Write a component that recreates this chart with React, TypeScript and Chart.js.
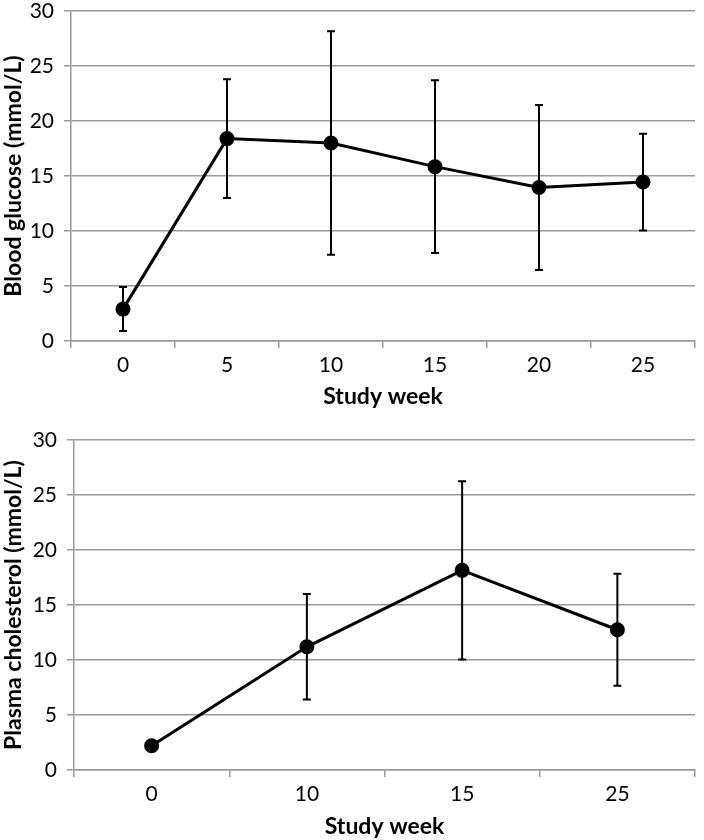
import React, { useEffect, useRef } from "react";
import { Chart, registerables } from "chart.js";

Chart.register(...registerables);

// Top chart: blood glucose
const glucoseWeeks = ["0", "5", "10", "15", "20", "25"];
const glucoseMean = [2.9, 18.4, 18.0, 15.85, 13.95, 14.45];
const glucoseErr = [2.0, 5.4, 10.15, 7.85, 7.5, 4.4];

// Bottom chart: plasma cholesterol
const cholWeeks = ["0", "10", "15", "25"];
const cholMean = [2.2, 11.2, 18.15, 12.75];
const cholErr = [0, 4.8, 8.1, 5.1];

const yTicks = [0, 5, 10, 15, 20, 25, 30];

const FONT = "Lato, 'Open Sans', sans-serif";
const GRID = "#9a9a9a";

const errorBarPlugin = {
  id: "errorBars",
  afterDatasetsDraw(chart: any) {
    const errs: number[] = chart.options.plugins.errorBars?.errors || [];
    const ctx = chart.ctx;
    const meta = chart.getDatasetMeta(0);
    const yScale = chart.scales.y;
    const data = chart.data.datasets[0].data as number[];
    ctx.save();
    ctx.strokeStyle = "#000";
    ctx.lineWidth = 2;
    meta.data.forEach((pt: any, i: number) => {
      const e = errs[i];
      if (!e) return;
      const x = pt.x;
      const yTop = yScale.getPixelForValue(data[i] + e);
      const yBot = yScale.getPixelForValue(data[i] - e);
      ctx.beginPath();
      ctx.moveTo(x, yTop);
      ctx.lineTo(x, yBot);
      ctx.moveTo(x - 4, yTop);
      ctx.lineTo(x + 4, yTop);
      ctx.moveTo(x - 4, yBot);
      ctx.lineTo(x + 4, yBot);
      ctx.stroke();
    });
    ctx.restore();
  },
};

function makeConfig(
  labels: string[],
  values: number[],
  errors: number[],
  yTitle: string,
  dims: { yWidth: number; xHeight: number; top: number; right: number }
): any {
  return {
    type: "line",
    data: {
      labels,
      datasets: [
        {
          data: values,
          borderColor: "#000",
          backgroundColor: "#000",
          borderWidth: 3,
          pointRadius: 6,
          pointHoverRadius: 6,
          pointBackgroundColor: "#000",
          pointBorderColor: "#000",
          tension: 0,
        },
      ],
    },
    options: {
      animation: false,
      responsive: false,
      maintainAspectRatio: false,
      events: [],
      layout: { padding: { top: dims.top, right: dims.right, left: 0, bottom: 0 } },
      plugins: {
        legend: { display: false },
        tooltip: { enabled: false },
        errorBars: { errors },
      },
      scales: {
        x: {
          type: "category",
          offset: true,
          grid: {
            offset: true,
            drawOnChartArea: false,
            drawTicks: true,
            tickLength: 7,
            color: GRID,
            lineWidth: 1.5,
          },
          border: { color: GRID, width: 1.5 },
          ticks: {
            color: "#000",
            font: { family: FONT, size: 21 },
            padding: 5,
            maxRotation: 0,
          },
          title: {
            display: true,
            text: "Study week",
            color: "#000",
            font: { family: FONT, size: 23, weight: "bold" },
            padding: { top: 0, bottom: 0 },
          },
          afterFit(scale: any) {
            scale.height = dims.xHeight;
            scale.paddingLeft = 0;
            scale.paddingRight = 0;
          },
        },
        y: {
          min: 0,
          max: 30,
          afterBuildTicks(scale: any) {
            scale.ticks = yTicks.map((v) => ({ value: v }));
          },
          grid: {
            color: GRID,
            lineWidth: 1.5,
            drawTicks: true,
            tickLength: 7,
          },
          border: { color: GRID, width: 1.5 },
          ticks: {
            color: "#000",
            font: { family: FONT, size: 21 },
            padding: 10,
          },
          title: {
            display: true,
            text: yTitle,
            color: "#000",
            font: { family: FONT, size: 23, weight: "bold" },
            padding: { top: 0, bottom: 0 },
          },
          afterFit(scale: any) {
            scale.width = dims.yWidth;
            scale.paddingTop = 0;
            scale.paddingBottom = 0;
          },
        },
      },
    },
    plugins: [errorBarPlugin],
  };
}

function ChartCanvas({ config, width, height }: { config: any; width: number; height: number }) {
  const ref = useRef<HTMLCanvasElement | null>(null);
  useEffect(() => {
    if (!ref.current) return;
    const chart = new Chart(ref.current, config);
    return () => chart.destroy();
  }, []);
  return (
    <canvas
      ref={ref}
      width={width}
      height={height}
      style={{ display: "block", width: width + "px", height: height + "px" }}
    />
  );
}

export default function App() {
  const top = makeConfig(glucoseWeeks, glucoseMean, glucoseErr, "Blood glucose (mmol/L)", {
    yWidth: 71,
    xHeight: 69,
    top: 11,
    right: 4,
  });
  const bottom = makeConfig(cholWeeks, cholMean, cholErr, "Plasma cholesterol (mmol/L)", {
    yWidth: 74,
    xHeight: 70,
    top: 30,
    right: 2,
  });
  return (
    <div
      style={{
        position: "absolute",
        left: 0,
        top: 0,
        width: 704,
        height: 840,
        background: "#fff",
      }}
    >
      <ChartCanvas config={top} width={704} height={410} />
      <ChartCanvas config={bottom} width={704} height={430} />
    </div>
  );
}
